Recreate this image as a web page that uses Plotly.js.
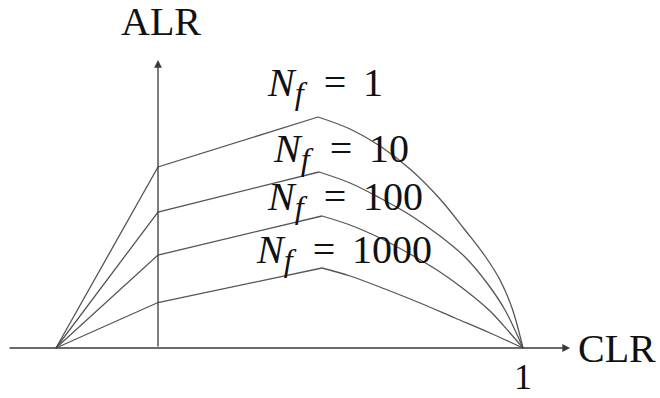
<!DOCTYPE html>
<html>
<head>
<meta charset="utf-8">
<script src="https://cdn.plot.ly/plotly-3.0.1.min.js"></script>
<style>
  html, body { margin: 0; padding: 0; background: #ffffff; }
  #chart { width: 660px; height: 398px; }
</style>
</head>
<body>
<div id="chart"></div>
<script>
// Fatigue-life curves: allowable load ratio (ALR) against cyclic load ratio (CLR)
// for several numbers of cycles to failure N_f.
const cycleLabels = ["1", "10", "100", "1000"];

// Each curve: straight rise to the ALR axis, straight run to the peak,
// then a smooth fall to CLR = 1. peakIndex marks where the fall begins.
const clrNf1    = [-0.2795, 0, 0.4384, 0.5260, 0.6082, 0.6904, 0.7726, 0.8411, 0.8959, 0.9370, 0.9699, 1.0];
const alrNf1    = [0, 1.81, 2.31, 2.19, 2.02, 1.79, 1.49, 1.18, 0.92, 0.68, 0.40, 0];

const clrNf10   = [-0.2795, 0, 0.4411, 0.5260, 0.6082, 0.6904, 0.7726, 0.8411, 0.9014, 0.9507, 1.0];
const alrNf10   = [0, 1.36, 1.76, 1.65, 1.50, 1.33, 1.12, 0.91, 0.65, 0.38, 0];

const clrNf100  = [-0.2795, 0, 0.4493, 0.5260, 0.6082, 0.6904, 0.7726, 0.8411, 0.9096, 0.9644, 1.0];
const alrNf100  = [0, 0.93, 1.32, 1.23, 1.10, 0.94, 0.76, 0.58, 0.37, 0.15, 0];

const clrNf1000 = [-0.2795, 0, 0.4493, 0.5260, 0.6219, 0.7178, 0.8137, 0.9096, 1.0];
const alrNf1000 = [0, 0.455, 0.80, 0.72, 0.59, 0.45, 0.30, 0.15, 0];

const peakIndex = 2;

const curves = [
  { clr: clrNf1,    alr: alrNf1 },
  { clr: clrNf10,   alr: alrNf10 },
  { clr: clrNf100,  alr: alrNf100 },
  { clr: clrNf1000, alr: alrNf1000 }
];

const curveLine = { color: "#555555", width: 1.3 };
const axisColor = "#3a3a3a";
const textColor = "#111111";
const serif = "Liberation Serif";

const traces = [];
curves.forEach(c => {
  // rising part with sharp corners
  traces.push({
    x: c.clr.slice(0, peakIndex + 1),
    y: c.alr.slice(0, peakIndex + 1),
    mode: "lines", type: "scatter",
    line: Object.assign({ shape: "linear" }, curveLine),
    hoverinfo: "skip", showlegend: false
  });
  // smooth descending part
  traces.push({
    x: c.clr.slice(peakIndex),
    y: c.alr.slice(peakIndex),
    mode: "lines", type: "scatter",
    line: Object.assign({ shape: "spline", smoothing: 1 }, curveLine),
    hoverinfo: "skip", showlegend: false
  });
});

// label placement for each N_f curve
const labelX = [0.458, 0.501, 0.511, 0.510];
const labelY = [2.63, 1.97, 1.49, 0.96];

const annotations = cycleLabels.map((n, i) => ({
  x: labelX[i], y: labelY[i], xref: "x", yref: "y",
  text: "<i>N</i><sub><span style=\"font-size:115%\"><i>f</i></span></sub>&#8202;&#8202; &#8202;= &#8202;&#8202;" + n,
  showarrow: false, xanchor: "center", yanchor: "middle",
  font: { family: serif, size: 40, color: textColor }
}));

// axes drawn as arrows
annotations.push({
  x: 1.129, y: 0, ax: -0.411, ay: 0,
  xref: "x", yref: "y", axref: "x", ayref: "y",
  text: "", showarrow: true, arrowhead: 2, arrowsize: 1.2,
  arrowwidth: 1.3, arrowcolor: axisColor, standoff: 0
});
annotations.push({
  x: 0, y: 2.88, ax: 0, ay: 0,
  xref: "x", yref: "y", axref: "x", ayref: "y",
  text: "", showarrow: true, arrowhead: 2, arrowsize: 1.2,
  arrowwidth: 1.3, arrowcolor: axisColor, standoff: 0
});

// axis titles and the CLR = 1 mark
annotations.push({
  x: 0.008, y: 3.27, xref: "x", yref: "y", text: "ALR", showarrow: false,
  xanchor: "center", yanchor: "middle",
  font: { family: serif, size: 40, color: textColor }
});
annotations.push({
  x: 1.258, y: 0, xref: "x", yref: "y", text: "CLR", showarrow: false,
  xanchor: "center", yanchor: "middle",
  font: { family: serif, size: 40, color: textColor }
});
annotations.push({
  x: 1.0, y: -0.29, xref: "x", yref: "y", text: "1", showarrow: false,
  xanchor: "center", yanchor: "middle",
  font: { family: serif, size: 36, color: textColor }
});

const layout = {
  width: 660, height: 398,
  margin: { l: 0, r: 0, t: 0, b: 0 },
  paper_bgcolor: "#ffffff", plot_bgcolor: "#ffffff",
  xaxis: { range: [-0.43288, 1.37534], visible: false, fixedrange: true },
  yaxis: { range: [-0.5, 3.48], visible: false, fixedrange: true },
  annotations: annotations,
  showlegend: false
};

Plotly.newPlot("chart", traces, layout, { staticPlot: true, displayModeBar: false });
</script>
</body>
</html>
